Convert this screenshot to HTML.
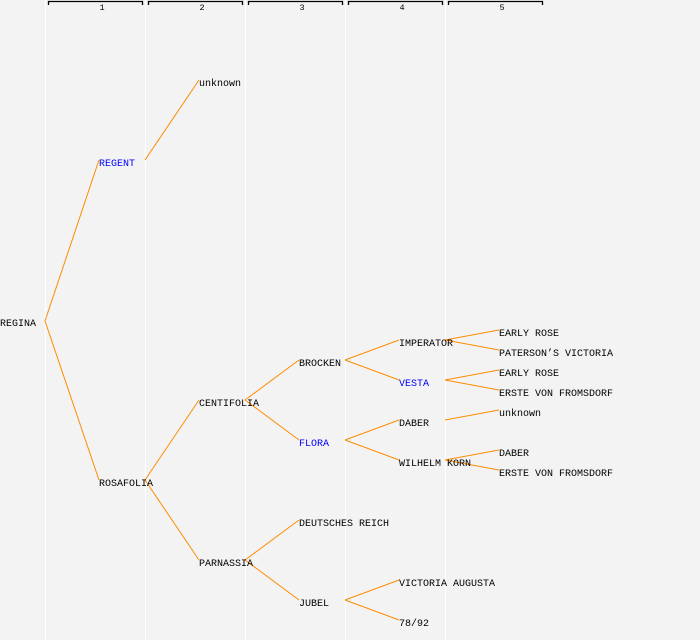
<!DOCTYPE html>
<html><head><style>
html,body{margin:0;padding:0;background:#f3f3f3;}
svg{display:block}
text{font-family:"Liberation Mono","DejaVu Sans Mono",monospace;font-size:10px;}
</style></head><body>
<svg width="700" height="640" xmlns="http://www.w3.org/2000/svg">
<rect width="700" height="640" fill="#f3f3f3"/>
<g stroke="#ffffff" stroke-width="1">
<line x1="45.5" y1="0" x2="45.5" y2="640"/><line x1="145.5" y1="0" x2="145.5" y2="640"/>
<line x1="245.5" y1="0" x2="245.5" y2="640"/><line x1="345.5" y1="0" x2="345.5" y2="640"/>
<line x1="445.5" y1="0" x2="445.5" y2="640"/>
</g>
<g stroke="#000" stroke-width="1.3" fill="none">
<path d="M48.5 5V1.5H142.5V5"/><path d="M148.5 5V1.5H242.5V5"/><path d="M248.5 5V1.5H342.5V5"/>
<path d="M348.5 5V1.5H442.5V5"/><path d="M448.5 5V1.5H542.5V5"/>
</g>
<g text-anchor="middle" fill="#000">
<text x="102" y="10" style="font-size:8.5px">1</text><text x="202" y="10" style="font-size:8.5px">2</text>
<text x="302" y="10" style="font-size:8.5px">3</text><text x="402" y="10" style="font-size:8.5px">4</text>
<text x="502" y="10" style="font-size:8.5px">5</text>
</g>
<g stroke="#ff8c00" stroke-width="1" fill="none">
<line x1="45" y1="321" x2="99" y2="160"/><line x1="45" y1="321" x2="99" y2="480"/>
<line x1="145" y1="160" x2="199" y2="80"/>
<line x1="145" y1="480" x2="199" y2="400"/><line x1="145" y1="480" x2="199" y2="560"/>
<line x1="245" y1="400" x2="299" y2="360"/><line x1="245" y1="400" x2="299" y2="440"/>
<line x1="245" y1="560" x2="299" y2="520"/><line x1="245" y1="560" x2="299" y2="600"/>
<line x1="345" y1="360" x2="399" y2="340"/><line x1="345" y1="360" x2="399" y2="380"/>
<line x1="345" y1="440" x2="399" y2="420"/><line x1="345" y1="440" x2="399" y2="460"/>
<line x1="345" y1="600" x2="399" y2="580"/><line x1="345" y1="600" x2="399" y2="620"/>
<line x1="445" y1="340" x2="499" y2="330"/><line x1="445" y1="340" x2="499" y2="350"/>
<line x1="445" y1="380" x2="499" y2="370"/><line x1="445" y1="380" x2="499" y2="390"/>
<line x1="445" y1="420" x2="499" y2="410"/>
<line x1="445" y1="460" x2="499" y2="450"/><line x1="445" y1="460" x2="499" y2="470"/>
</g>
<g fill="#000" style="font-size:10.5px">
<text x="0" y="326">REGINA</text>
<text x="99" y="166" fill="#0000ff">REGENT</text>
<text x="199" y="86">unknown</text>
<text x="99" y="486">ROSAFOLIA</text>
<text x="199" y="406">CENTIFOLIA</text>
<text x="199" y="566">PARNASSIA</text>
<text x="299" y="366">BROCKEN</text>
<text x="299" y="446" fill="#0000ff">FLORA</text>
<text x="299" y="526">DEUTSCHES REICH</text>
<text x="299" y="606">JUBEL</text>
<text x="399" y="346">IMPERATOR</text>
<text x="399" y="386" fill="#0000ff">VESTA</text>
<text x="399" y="426">DABER</text>
<text x="399" y="466">WILHELM KORN</text>
<text x="399" y="586">VICTORIA AUGUSTA</text>
<text x="399" y="626">78/92</text>
<text x="499" y="336">EARLY ROSE</text>
<text x="499" y="356">PATERSON’S VICTORIA</text>
<text x="499" y="376">EARLY ROSE</text>
<text x="499" y="396">ERSTE VON FROMSDORF</text>
<text x="499" y="416">unknown</text>
<text x="499" y="456">DABER</text>
<text x="499" y="476">ERSTE VON FROMSDORF</text>
</g>
</svg>
</body></html>
